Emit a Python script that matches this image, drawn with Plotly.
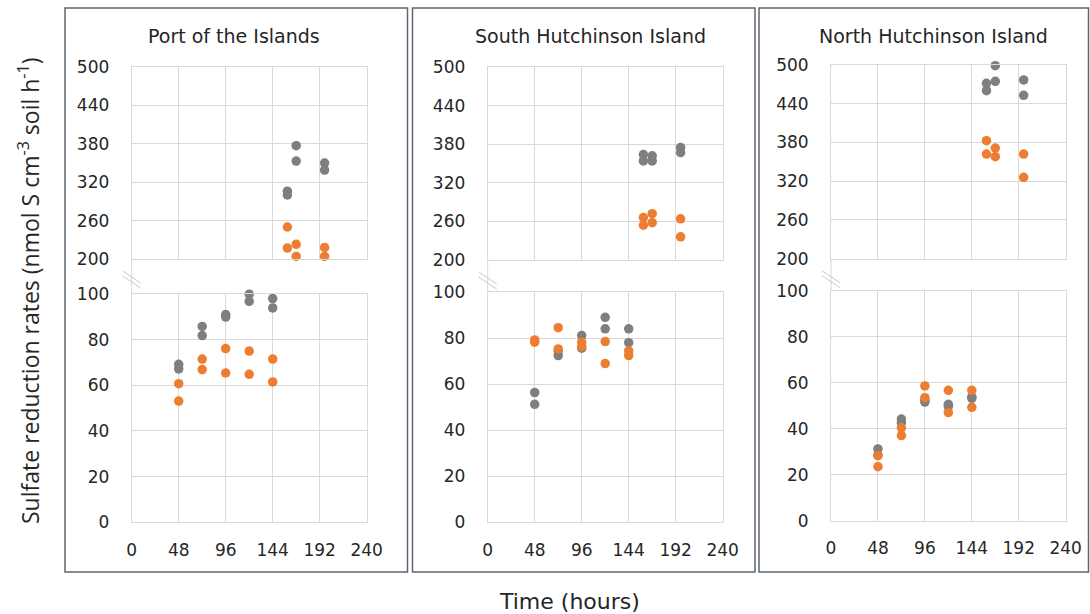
import plotly.graph_objects as go

W, H = 1090, 614

# ---------------- data ----------------
sites = ["Port of the Islands", "South Hutchinson Island", "North Hutchinson Island"]
x_ticks = [0, 48, 96, 144, 192, 240]
y_ticks_high = [200, 260, 320, 380, 440, 500]
y_ticks_low = [0, 20, 40, 60, 80, 100]

time_low = [48, 48, 72, 72, 96, 96, 120, 120, 144, 144]
time_high = [159, 159, 168, 168, 197, 197]

poi_gray_low = [69.2, 67.2, 85.8, 81.8, 91.0, 89.9, 99.9, 96.8, 98.0, 93.9]
poi_orange_low = [60.7, 53.1, 71.5, 66.9, 76.1, 65.4, 75.0, 64.8, 71.5, 61.5]
poi_gray_high = [306, 300, 377, 353, 350, 339]
poi_orange_high = [250, 217, 223, 204, 218, 204]

shi_gray_low = [56.4, 51.3, 74.5, 72.5, 81.2, 75.7, 89.1, 84.1, 84.1, 78.1]
shi_orange_low = [79.3, 78.3, 84.6, 75.4, 78.3, 76.4, 78.6, 69.0, 74.5, 72.5]
shi_gray_high = [364, 354, 362, 354, 375, 367]
shi_orange_high = [266, 254, 272, 258, 264, 236]

nhi_gray_low = [31.2, 28.5, 44.2, 42.6, 52.5, 51.6, 50.6, 49.6, 53.8, 53.2]
nhi_orange_low = [28.3, 23.5, 40.4, 37.0, 58.6, 53.5, 56.7, 47.0, 56.7, 49.3]
nhi_gray_high = [471.6, 460.2, 499, 474.7, 476.8, 453]
nhi_orange_high = [382.8, 362, 371.4, 358, 362, 326]

gray_low = [poi_gray_low, shi_gray_low, nhi_gray_low]
orange_low = [poi_orange_low, shi_orange_low, nhi_orange_low]
gray_high = [poi_gray_high, shi_gray_high, nhi_gray_high]
orange_high = [poi_orange_high, shi_orange_high, nhi_orange_high]

GRAY = "#7f7f7f"
ORANGE = "#ed7d31"
GRID = "#d9d9d9"
FRAME = "#5d6570"
TXT = "#262626"

def px(x):
    return x / W

def py(y):
    return 1 - y / H

# layout geometry (pixels)
plot_x = [(131.7, 366.7), (487.7, 722.7), (831.0, 1065.7)]
top_y = [(67, 259), (67, 260), (65, 258.7)]
bot_y = [(294, 522.3), (292.3, 522.3), (290.7, 520.7)]
frames = [(65, 8, 407.5, 572), (412.5, 8, 755, 572), (759, 8, 1088.5, 572)]
title_x = [234, 591, 933]

fig = go.Figure()
layout = dict(
    template="none",
    width=W, height=H, margin=dict(l=0, r=0, t=0, b=0, pad=0),
    paper_bgcolor="white", plot_bgcolor="white", showlegend=False,
    font=dict(family="DejaVu Sans", size=17, color=TXT),
)
shapes = []
annotations = []

for i in range(3):
    top_n = 2 * i + 1
    bot_n = 2 * i + 2
    for n, xs, gy, oy in [(top_n, time_high, gray_high[i], orange_high[i]),
                          (bot_n, time_low, gray_low[i], orange_low[i])]:
        xa = "x" if n == 1 else f"x{n}"
        ya = "y" if n == 1 else f"y{n}"
        fig.add_trace(go.Scatter(x=xs, y=gy, mode="markers", xaxis=xa, yaxis=ya,
                                 marker=dict(color=GRAY, size=9.5, line=dict(width=0)),
                                 cliponaxis=False, name="gray"))
        fig.add_trace(go.Scatter(x=xs, y=oy, mode="markers", xaxis=xa, yaxis=ya,
                                 marker=dict(color=ORANGE, size=9.5, line=dict(width=0)),
                                 cliponaxis=False, name="orange"))
    x0, x1 = plot_x[i]
    for n, (yt, yb), ticks, rng in [(top_n, top_y[i], y_ticks_high, [200, 500]),
                                     (bot_n, bot_y[i], y_ticks_low, [0, 100])]:
        xkey = "xaxis" if n == 1 else f"xaxis{n}"
        ykey = "yaxis" if n == 1 else f"yaxis{n}"
        is_bottom = (n == bot_n)
        layout[xkey] = dict(
            domain=[px(x0), px(x1)], range=[0, 240], tickvals=x_ticks,
            ticktext=[str(t) for t in x_ticks], showticklabels=is_bottom,
            showgrid=True, gridcolor=GRID, gridwidth=1, zeroline=False,
            showline=True, linecolor=GRID, linewidth=1, mirror=True, ticks="",
            ticklabelstandoff=12, anchor="y" if n == 1 else f"y{n}",
            tickfont=dict(size=17, color=TXT, family="DejaVu Sans"),
            automargin=False, fixedrange=True,
        )
        layout[ykey] = dict(
            domain=[py(yb), py(yt)], range=rng, tickvals=ticks,
            ticktext=[str(t) for t in ticks], showgrid=True, gridcolor=GRID,
            gridwidth=1, zeroline=False, showline=True, linecolor=GRID,
            linewidth=1, mirror=True, ticks="", ticklabelstandoff=18,
            anchor="x" if n == 1 else f"x{n}",
            tickfont=dict(size=17, color=TXT, family="DejaVu Sans"),
            automargin=False, fixedrange=True,
        )
    # connector between top and bottom plots on left axis
    shapes.append(dict(type="line", xref="paper", yref="paper",
                       x0=px(x0), x1=px(x0), y0=py(top_y[i][1]), y1=py(bot_y[i][0]),
                       line=dict(color=GRID, width=1)))
    # break marks
    for dy in (0, 5):
        shapes.append(dict(type="line", xref="paper", yref="paper",
                           x0=px(x0 - 9), x1=px(x0 + 9),
                           y0=py(top_y[i][1] + 12 + dy), y1=py(top_y[i][1] + 24 + dy),
                           line=dict(color="#c8c8c8", width=1)))
    # panel frame
    fx0, fy0, fx1, fy1 = frames[i]
    shapes.append(dict(type="rect", xref="paper", yref="paper",
                       x0=px(fx0), x1=px(fx1), y0=py(fy1), y1=py(fy0),
                       line=dict(color=FRAME, width=1.5), fillcolor="rgba(0,0,0,0)"))
    annotations.append(dict(text=sites[i], xref="paper", yref="paper",
                            x=px(title_x[i]), y=py(35.5), xanchor="center",
                            yanchor="middle", showarrow=False,
                            font=dict(family="DejaVu Sans", size=19, color=TXT)))

annotations.append(dict(text="Sulfate reduction rates (nmol S cm<sup>-3</sup> soil h<sup>-1</sup>)",
                        xref="paper", yref="paper", x=px(29), y=py(291),
                        xanchor="center", yanchor="middle", textangle=-90,
                        showarrow=False,
                        font=dict(family="Open Sans", size=23, color=TXT)))
annotations.append(dict(text="Time (hours)", xref="paper", yref="paper",
                        x=px(569), y=py(601), xanchor="center", yanchor="middle",
                        showarrow=False,
                        font=dict(family="DejaVu Sans", size=22, color=TXT)))

layout["shapes"] = shapes
layout["annotations"] = annotations
fig.update_layout(**layout)
fig.write_html("out.html", config={"displayModeBar": False},
               post_script="document.body.style.margin='0px';document.body.style.overflow='hidden';")
